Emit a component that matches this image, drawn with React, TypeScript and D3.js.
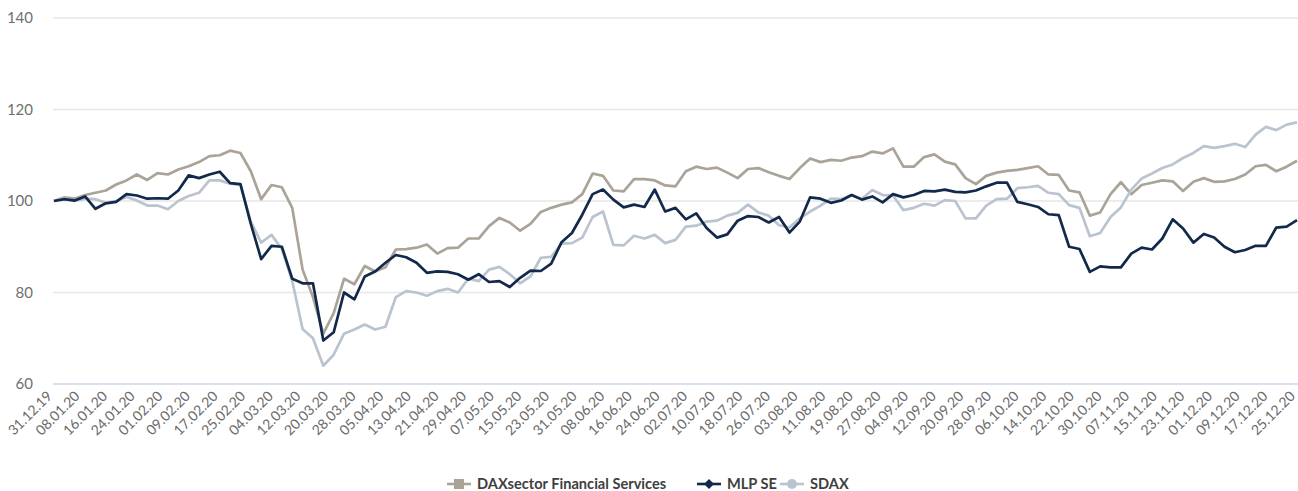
import React from 'react';
import * as d3 from 'd3';

// one point every 3 calendar days, 31.12.19 .. 25.12.20
const startDate = new Date(2019, 11, 31);
const dates = d3.range(0, 361, 3).map((d) => d3.timeDay.offset(startDate, d));

const daxValues = [
  100, 100.8, 100.5, 101.3, 101.8, 102.3, 103.6, 104.5, 105.8, 104.6, 106.1, 105.8, 106.9, 107.6, 108.5, 109.8,
  110, 111, 110.5, 106.5, 100.4, 103.5, 103, 98.5, 85, 79, 71, 75.5, 83, 81.8, 85.8, 84.6,
  85.5, 89.4, 89.5, 89.8, 90.5, 88.5, 89.7, 89.8, 91.8, 91.8, 94.5, 96.3, 95.3, 93.5, 95, 97.6,
  98.5, 99.2, 99.7, 101.5, 106, 105.5, 102.3, 102.1, 104.8, 104.8, 104.5, 103.4, 103.2, 106.5, 107.5, 107,
  107.3, 106.2, 105, 107, 107.2, 106.3, 105.5, 104.8, 107.2, 109.3, 108.5, 109, 108.8, 109.5, 109.8, 110.8,
  110.4, 111.5, 107.5, 107.5, 109.6, 110.2, 108.6, 108, 105, 103.7, 105.5, 106.2, 106.6, 106.8, 107.2, 107.6,
  105.8, 105.7, 102.3, 101.9, 96.8, 97.5, 101.5, 104.1, 101.5, 103.5, 104, 104.5, 104.3, 102.2, 104.2, 105,
  104.2, 104.3, 104.8, 105.8, 107.6, 107.9, 106.5, 107.5, 108.8,
];

const mlpValues = [
  100, 100.4, 100.1, 101, 98.3, 99.5, 99.8, 101.5, 101.2, 100.5, 100.6, 100.5, 102.3, 105.6, 105, 105.8,
  106.4, 103.9, 103.7, 95, 87.3, 90.2, 90, 83, 82, 82, 69.5, 71.3, 80, 78.5, 83.5, 84.6,
  86.5, 88.2, 87.7, 86.5, 84.3, 84.6, 84.5, 84, 82.8, 84, 82.3, 82.5, 81.2, 83.2, 84.8, 84.7,
  86.3, 91, 93, 97, 101.5, 102.5, 100.3, 98.6, 99.2, 98.7, 102.5, 97.7, 98.5, 96, 97.3, 94.1,
  92, 92.7, 95.7, 96.7, 96.5, 95.3, 96.5, 93.1, 95.5, 100.8, 100.5, 99.6, 100.1, 101.3, 100.3, 101,
  99.7, 101.5, 100.8, 101.3, 102.2, 102.1, 102.5, 102, 101.9, 102.3, 103.2, 104, 104, 99.8, 99.3, 98.7,
  97.1, 96.9, 90, 89.5, 84.5, 85.7, 85.5, 85.5, 88.5, 89.8, 89.4, 91.8, 96, 94, 90.9, 92.8,
  92, 90, 88.8, 89.3, 90.2, 90.2, 94.2, 94.4, 95.8,
];

const sdaxValues = [
  100, 100.7, 100, 100.5, 100.4, 99.6, 100, 100.9, 100.1, 99, 99, 98.2, 100, 101.1, 101.8, 104.5,
  104.5, 103.8, 103.5, 95.5, 90.9, 92.6, 89.5, 82.5, 72, 70, 64, 66.4, 71, 71.9, 73, 71.9,
  72.5, 79, 80.3, 80, 79.3, 80.3, 80.8, 80, 83, 82.5, 85, 85.6, 84, 82, 83.5, 87.6,
  87.8, 90.7, 90.8, 92, 96.5, 97.7, 90.4, 90.3, 92.4, 91.8, 92.6, 90.8, 91.5, 94.4, 94.6, 95.5,
  95.7, 96.8, 97.4, 99.2, 97.5, 96.8, 94.7, 94.2, 96.2, 97.7, 99, 100.5, 100.4, 101.3, 100.5, 102.4,
  101.3, 101.2, 98, 98.5, 99.4, 99, 100.2, 100, 96.2, 96.2, 99, 100.4, 100.5, 102.8, 103, 103.3,
  101.8, 101.5, 99.1, 98.5, 92.3, 93, 96.5, 98.6, 102.5, 104.9, 106, 107.2, 108, 109.4, 110.5, 112,
  111.6, 112, 112.5, 111.8, 114.5, 116.2, 115.5, 116.7, 117.2,
];

const yTicks = [60, 80, 100, 120, 140];

const xTickLabels = [
  '31.12.19', '08.01.20', '16.01.20', '24.01.20', '01.02.20', '09.02.20', '17.02.20', '25.02.20',
  '04.03.20', '12.03.20', '20.03.20', '28.03.20', '05.04.20', '13.04.20', '21.04.20', '29.04.20',
  '07.05.20', '15.05.20', '23.05.20', '31.05.20', '08.06.20', '16.06.20', '24.06.20', '02.07.20',
  '10.07.20', '18.07.20', '26.07.20', '03.08.20', '11.08.20', '19.08.20', '27.08.20', '04.09.20',
  '12.09.20', '20.09.20', '28.09.20', '06.10.20', '14.10.20', '22.10.20', '30.10.20', '07.11.20',
  '15.11.20', '23.11.20', '01.12.20', '09.12.20', '17.12.20', '25.12.20',
];

const seriesNames = ['DAXsector Financial Services', 'MLP SE', 'SDAX'];
const seriesColors = ['#aaa398', '#13294b', '#bac3d0'];

const W = 1298;
const H = 491;
const FONT = 'Lato, "Noto Sans", sans-serif';

const parseLabel = d3.timeParse('%d.%m.%y');

export default function App() {
  const x = d3.scaleTime().domain([startDate, new Date(2020, 11, 25)]).range([54, 1297]);
  const y = d3.scaleLinear().domain([60, 140]).range([384, 18]);

  const line = d3
    .line<number>()
    .x((_, i) => x(dates[i]))
    .y((v) => y(v));

  // draw order: taupe, light, navy on top
  const allSeries = [daxValues, sdaxValues, mlpValues];
  const colorOf = [seriesColors[0], seriesColors[2], seriesColors[1]];

  const legendX = [447, 697, 780];

  return (
    <svg width={W} height={H} style={{ position: 'absolute', left: 0, top: 0, background: '#fff' }}>
      {yTicks.map((t) => (
        <g key={t}>
          <line
            x1={53}
            x2={W}
            y1={y(t)}
            y2={y(t)}
            stroke={t === 60 ? '#cdd6e8' : '#e6e6e6'}
            strokeWidth={1.5}
          />
          <text x={33} y={y(t) + 5} textAnchor="end" fontFamily={FONT} fontSize={15} fill="#707070">
            {t}
          </text>
        </g>
      ))}

      {xTickLabels.map((lab) => {
        const px = x(parseLabel(lab) as Date) - 1;
        const py = 397;
        return (
          <text
            key={lab}
            x={px}
            y={py}
            transform={`rotate(-45 ${px} ${py})`}
            textAnchor="end"
            fontFamily={FONT}
            fontSize={14}
            fill="#6a6a6a"
          >
            {lab}
          </text>
        );
      })}

      {allSeries.map((vals, i) => (
        <path
          key={i}
          d={line(vals) || ''}
          fill="none"
          stroke={colorOf[i]}
          strokeWidth={2.7}
          strokeLinejoin="round"
        />
      ))}

      {seriesNames.map((name, i) => {
        const lx = legendX[i];
        const cy = 484;
        const c = seriesColors[i];
        return (
          <g key={name}>
            <line x1={lx} x2={lx + 24} y1={cy} y2={cy} stroke={c} strokeWidth={2.6} />
            {i === 0 && <rect x={lx + 7} y={cy - 5} width={10} height={10} fill={c} />}
            {i === 1 && (
              <path d={`M${lx + 12},${cy - 5} L${lx + 17},${cy} L${lx + 12},${cy + 5} L${lx + 7},${cy} Z`} fill={c} />
            )}
            {i === 2 && <circle cx={lx + 12} cy={cy} r={5} fill={c} />}
            <text x={lx + 30} y={cy + 5} fontFamily={FONT} fontWeight={700} fontSize={14.6} fill="#404040">
              {name}
            </text>
          </g>
        );
      })}
    </svg>
  );
}
